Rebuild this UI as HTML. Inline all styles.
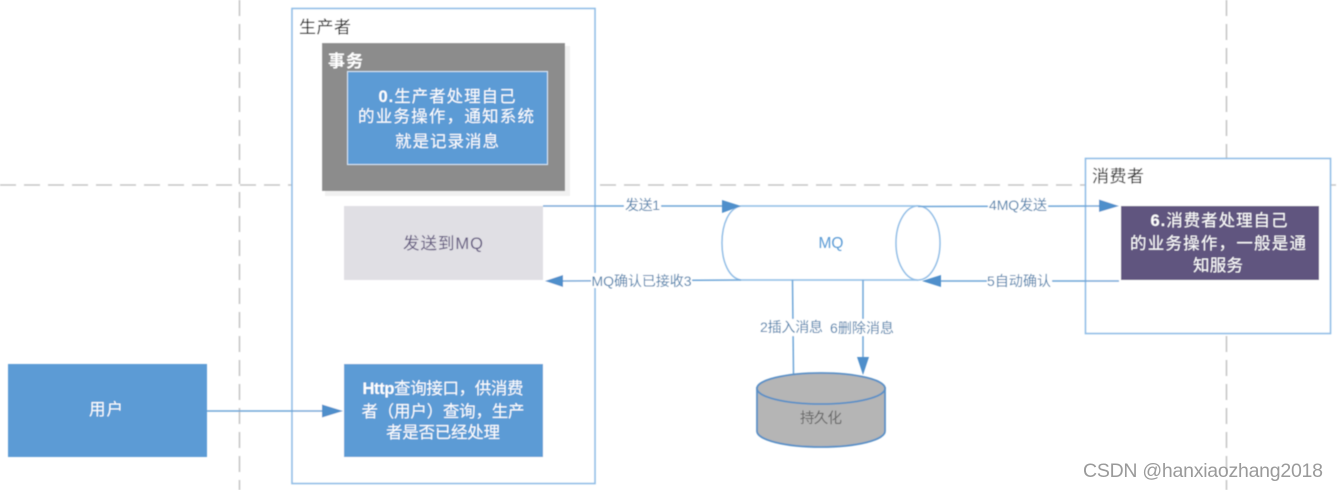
<!DOCTYPE html>
<html><head><meta charset="utf-8">
<style>
html,body{margin:0;padding:0;background:#fff;width:1338px;height:490px;overflow:hidden}
svg{display:block}
text{font-family:"Liberation Sans","Noto Sans CJK SC",sans-serif}
.w{fill:#fff;font-size:16.5px;text-anchor:middle}
.l{fill:#4f82ad;font-size:14px;text-anchor:middle}
.h{fill:#1c1c1c;font-size:17px}
</style></head><body>
<svg width="1338" height="490" viewBox="0 0 1338 490" xmlns="http://www.w3.org/2000/svg">
<defs><filter id="b" x="-5%" y="-5%" width="110%" height="110%"><feGaussianBlur stdDeviation="0.4"/></filter></defs>
<g filter="url(#b)">
<!-- dashed guides -->
<g stroke="#c6c6c6" stroke-width="1.6" stroke-dasharray="16 8" fill="none">
<line x1="0" y1="185" x2="1338" y2="185"/>
<line x1="239.500" y1="0" x2="239.500" y2="490"/>
<line x1="1226.500" y1="0" x2="1226.500" y2="490"/>
</g>
<!-- producer -->
<rect x="292" y="8.500" width="303" height="475" fill="#fff" stroke="#8fbde6" stroke-width="1.600"/>
<text class="h" x="299" y="33" textLength="52">生产者</text>
<rect x="325" y="46" width="245" height="150" fill="#f1f1f1"/>
<rect x="322" y="43" width="243" height="148" fill="#8c8c8c"/>
<text x="328" y="67" fill="#fff" font-size="17" font-weight="bold" textLength="35">事务</text>
<rect x="347.500" y="71.500" width="200" height="93" fill="#5b9bd5" stroke="#d5e5f4" stroke-width="1"/>
<text class="w" x="447" y="102" textLength="137"><tspan font-weight="bold">0.</tspan>生产者处理自己</text>
<text class="w" x="446" y="122" textLength="176">的业务操作，通知系统</text>
<text class="w" x="447" y="147" textLength="104">就是记录消息</text>
<rect x="344" y="206" width="199" height="74" fill="#e0dfe4"/>
<text x="443" y="249" fill="#62587f" font-size="16.500" text-anchor="middle" textLength="80">发送到MQ</text>
<rect x="344" y="364" width="199" height="93" fill="#5b9bd5"/>
<text class="w" x="443" y="394" textLength="161"><tspan font-weight="bold">Http</tspan>查询接口，供消费</text>
<text class="w" x="443" y="417" textLength="163">者（用户）查询，生产</text>
<text class="w" x="443" y="438" textLength="114">者是否已经处理</text>
<!-- user -->
<rect x="8" y="364" width="199" height="93" fill="#5b9bd5"/>
<text class="w" x="106" y="415" textLength="34">用户</text>
<!-- consumer -->
<rect x="1085.500" y="158.500" width="245" height="175" fill="#fff" stroke="#8fbde6" stroke-width="1.600"/>
<text class="h" x="1092" y="182" textLength="52">消费者</text>
<rect x="1121" y="206" width="198" height="74" fill="#60557f"/>
<text class="w" x="1219" y="226" textLength="137"><tspan font-weight="bold">6.</tspan>消费者处理自己</text>
<text class="w" x="1218" y="249" textLength="176">的业务操作，一般是通</text>
<text class="w" x="1218" y="271" textLength="50">知服务</text>
<!-- MQ tube -->
<path d="M741 206 H918 M741 280 H918 M741 206 C729 208 722 224 722 243 C722 262 729 278 741 280" fill="#fff" stroke="#8fbde6" stroke-width="1.500"/>
<ellipse cx="918" cy="243" rx="22" ry="37" fill="#fff" stroke="#8fbde6" stroke-width="1.500"/>
<text x="831" y="248" fill="#5b9bd5" font-size="15.500" text-anchor="middle">MQ</text>
<!-- connectors -->
<g stroke="#6ea6d8" stroke-width="1.500" fill="none">
<line x1="543" y1="206" x2="724" y2="206"/>
<line x1="918" y1="206.500" x2="1100" y2="206"/>
<line x1="560" y1="281" x2="741" y2="280"/>
<line x1="938" y1="281" x2="1119" y2="281"/>
<line x1="792.500" y1="280" x2="793.500" y2="374"/>
<line x1="863" y1="280" x2="863" y2="358"/>
<line x1="207" y1="411" x2="323" y2="411"/>
</g>
<g fill="#4f8fcb">
<path d="M741 206 L722 200 V213 Z"/>
<path d="M1119 206 L1099 199.500 V212 Z"/>
<path d="M545 281 L563 275 V287 Z"/>
<path d="M922 281 L941 275 V287 Z"/>
<path d="M863 375 L857 357 H869 Z"/>
<path d="M343 411 L322 404.500 V417.500 Z"/>
</g>
<!-- connector labels -->
<g fill="#fff">
<rect x="624" y="198" width="37" height="15"/>
<rect x="591" y="273" width="101" height="15"/>
<rect x="988" y="198" width="60" height="15"/>
<rect x="987" y="273" width="65" height="15"/>
<rect x="759" y="319" width="66" height="17"/>
<rect x="829" y="319" width="66" height="17"/>
</g>
<text class="l" x="642.500" y="210" textLength="35">发送1</text>
<text class="l" x="641.500" y="286" textLength="100">MQ确认已接收3</text>
<text class="l" x="1018" y="210" textLength="58">4MQ发送</text>
<text class="l" x="1019" y="286" textLength="64">5自动确认</text>
<text class="l" x="791.500" y="332" textLength="63">2插入消息</text>
<text class="l" x="862" y="333" textLength="64">6删除消息</text>
<!-- cylinder -->
<path d="M757 388 V431 C757 440 785 447 821 447 C857 447 885 440 885 431 V388 Z" fill="#b5b5b5" stroke="#5a90c6" stroke-width="1.800"/>
<ellipse cx="821" cy="388.500" rx="64" ry="15.500" fill="#b5b5b5" stroke="#5a90c6" stroke-width="1.800"/>
<text x="821" y="423" fill="#666" font-size="14.500" text-anchor="middle" textLength="42">持久化</text>
</g>
<text x="1083" y="477" fill="#9a9a9a" font-size="19.500" textLength="240">CSDN @hanxiaozhang2018</text>
</svg>
</body></html>
